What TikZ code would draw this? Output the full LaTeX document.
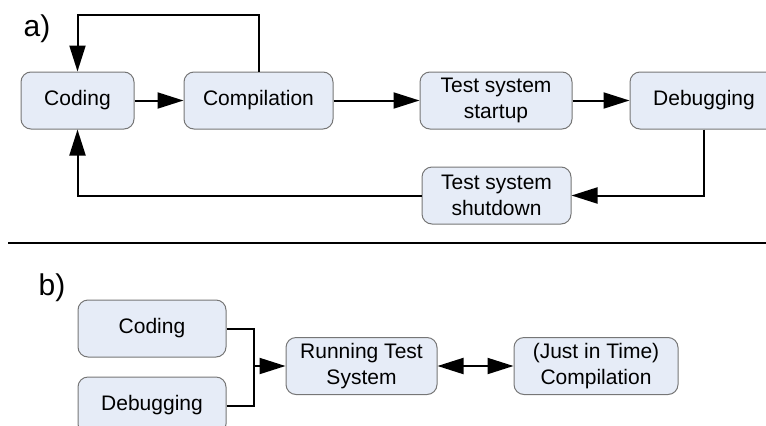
\documentclass[tikz,border=0pt]{standalone}
\usepackage{fontspec}
\setmainfont{Liberation Sans}
\usetikzlibrary{positioning,arrows.meta}
\definecolor{boxfill}{HTML}{E6ECF7}
\definecolor{boxline}{HTML}{767676}

\begin{document}
\begin{tikzpicture}[x=0.75pt, y=-0.75pt,
stepbox/.style={rectangle, rounded corners=7.5pt, draw=boxline, fill=boxfill, line width=0.75pt, minimum height=42.75pt, inner sep=0pt, align=center, font=\fontsize{15.75pt}{19.5pt}\selectfont},
partlabel/.style={font=\fontsize{22.5pt}{26pt}\selectfont, inner sep=0pt},
flow/.style={line width=1.5pt, -{Triangle[length=19.5pt, width=12pt]}},
twoway/.style={line width=1.5pt, {Triangle[length=19.5pt, width=12pt]}-{Triangle[length=19.5pt, width=12pt]}},
]
\useasboundingbox (0,0) rectangle (766,425);
\clip (0,0) rectangle (766,425);
%Nodes a)
\node[partlabel]                          (labela)                          at (37,29)      {a)};
\node[stepbox, minimum width=84.75pt]     (coding)                          at (77.5,100.5) {Coding};
\node[stepbox, minimum width=111.75pt]    (compil)   [right=36.75pt of coding]               {Compilation};
\node[stepbox, minimum width=114pt]       (startup)  [right=64.5pt of compil]                {Test system\\startup};
\node[stepbox, minimum width=111pt]       (debug)    [right=42.75pt of startup]              {Debugging};
\node[stepbox, minimum width=111.75pt]    (shutdown)                        at (496.5,195.5) {Test system\\shutdown};
\coordinate (looptop) at (0,15);

%Lines a)
\draw[flow] (coding.east) -- (compil.west);
\draw[flow] (compil.east) -- (startup.west);
\draw[flow] (startup.east) -- (debug.west);
\draw[flow] (compil.north) -- (compil.north |- looptop) -| (coding.north);
\draw[flow] (debug.south) |- (shutdown.east);
\draw[flow] (shutdown.west) -| (coding.south);

%Separator
\coordinate (ruleL) at (8,243);
\coordinate (ruleR) at (766,243);
\draw[line width=1.5pt] (ruleL) -- (ruleR);

%Nodes b)
\node[partlabel]                          (labelb)                          at (52,288)     {b)};
\node[stepbox, minimum width=111pt]       (bcoding)                         at (152,328.5)  {Coding};
\node[stepbox, minimum width=111pt]       (bdebug)   [below=14.25pt of bcoding]              {Debugging};
\node[stepbox, minimum width=113.25pt]    (running)                         at (361.5,366)  {Running Test\\System};
\node[stepbox, minimum width=123pt]       (jit)      [right=57pt of running]                 {(Just in Time)\\Compilation};
\coordinate (join) at (254,366);

%Lines b)
\draw[line width=1.5pt] (bcoding.east) -| (join);
\draw[line width=1.5pt] (bdebug.east) -| (join);
\draw[flow] (join) -- (running.west);
\draw[twoway] (running.east) -- (jit.west);
\end{tikzpicture}
\end{document}
